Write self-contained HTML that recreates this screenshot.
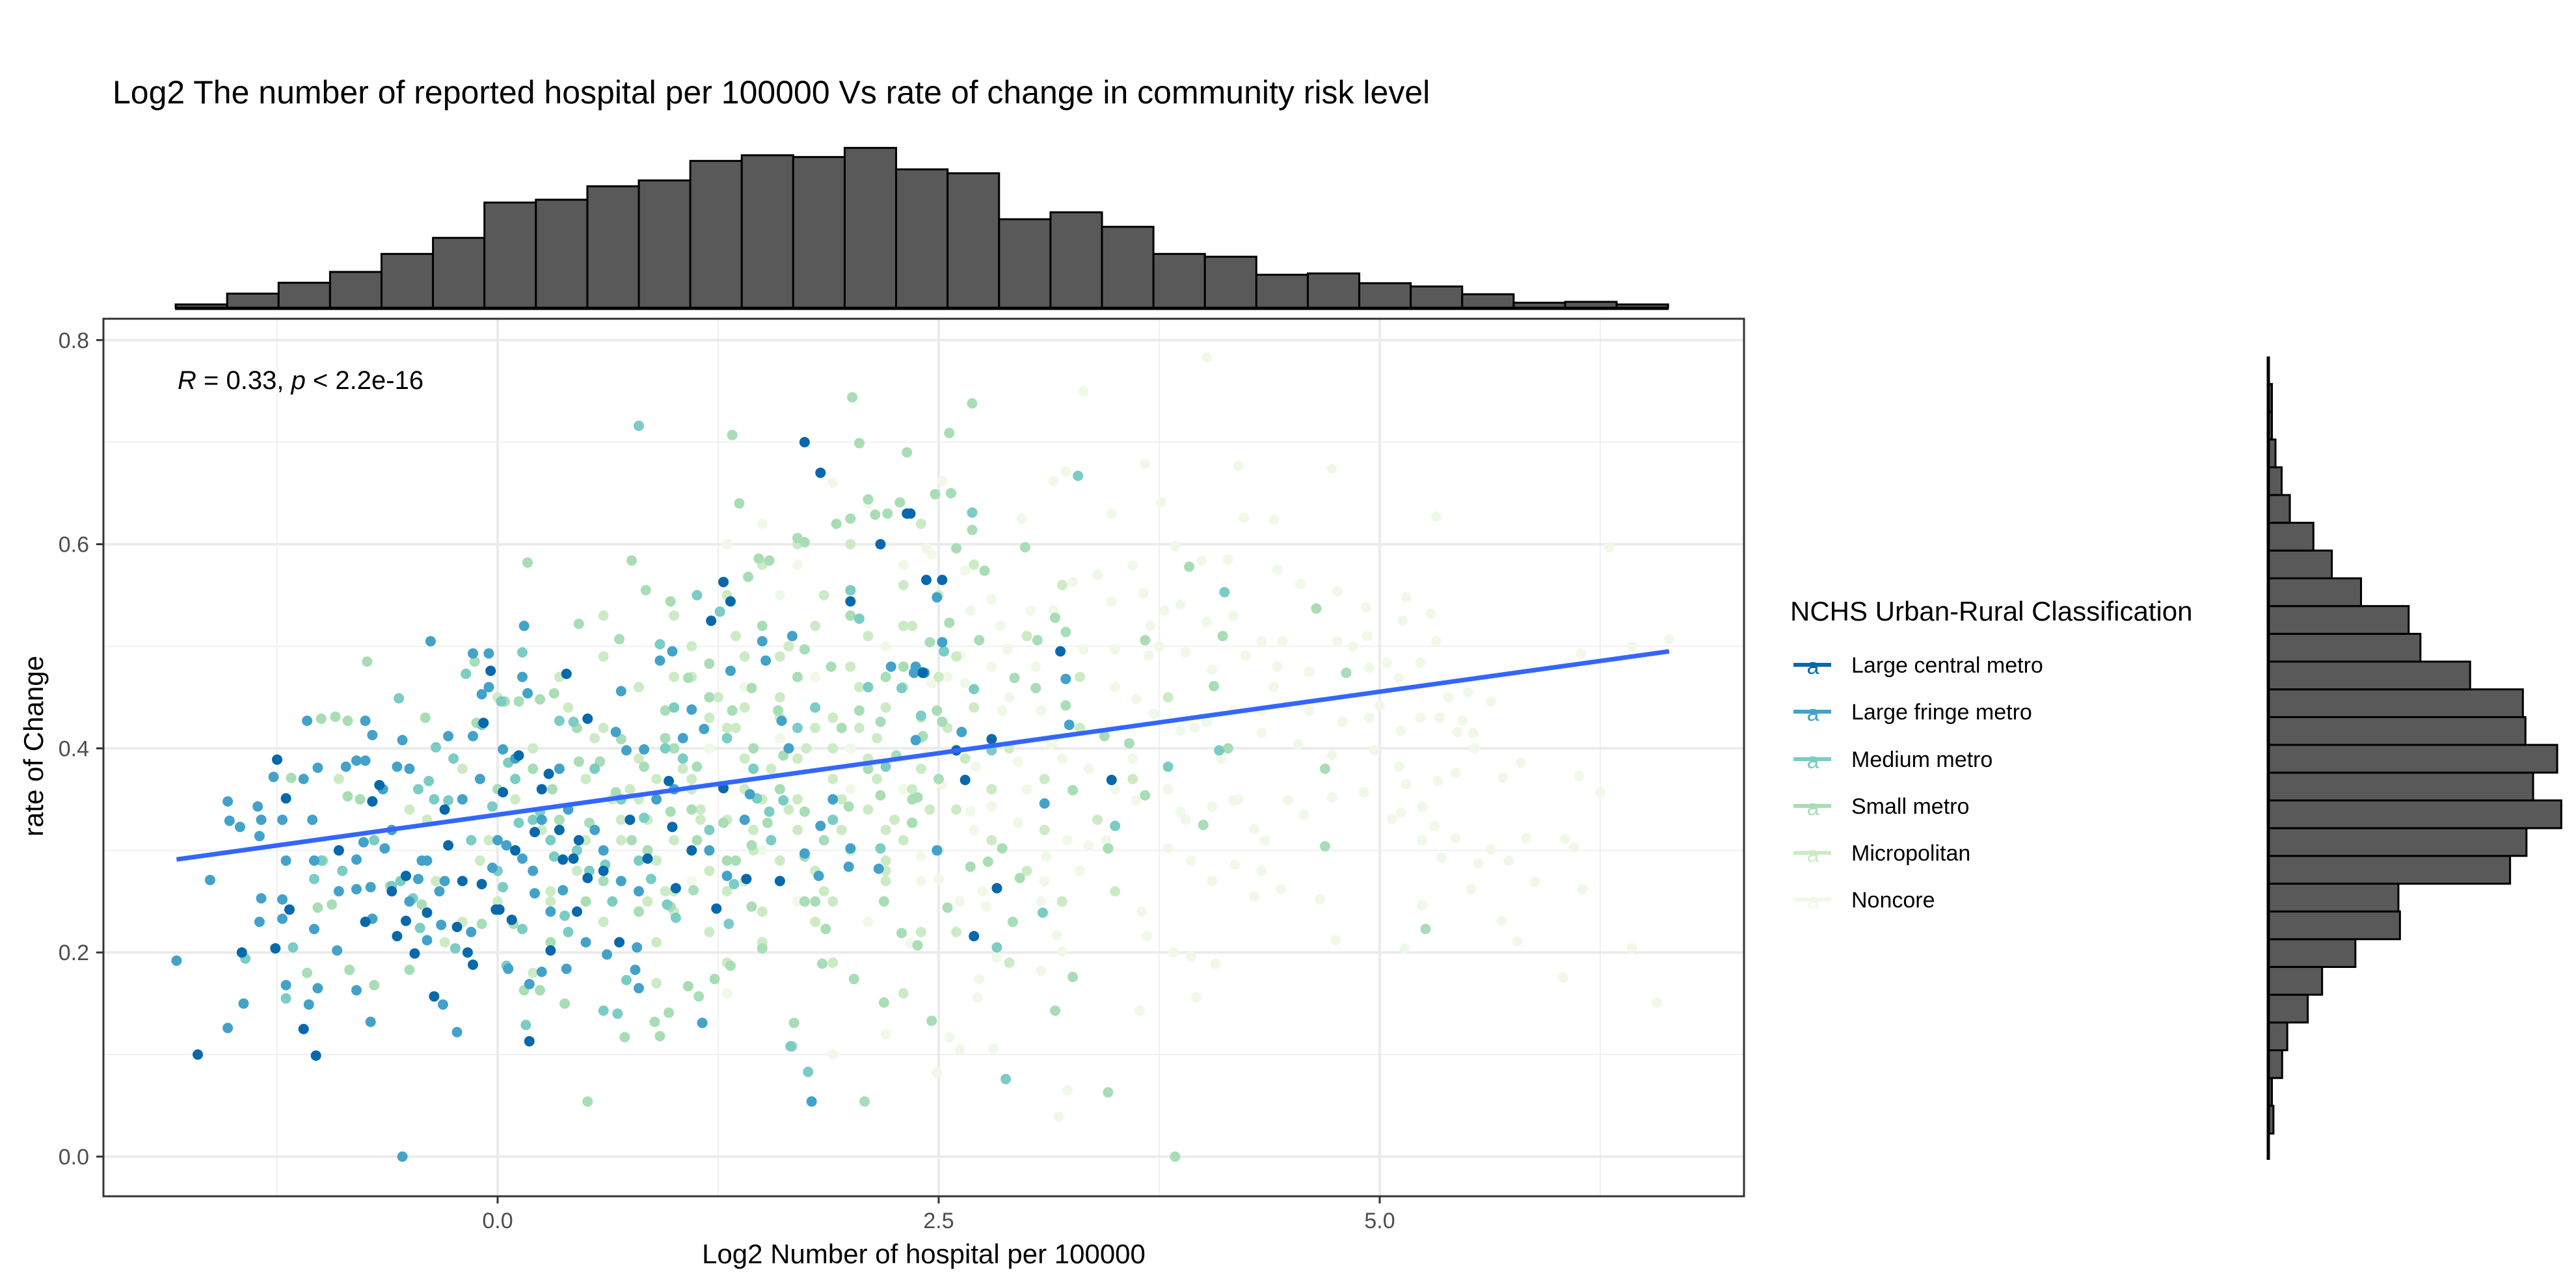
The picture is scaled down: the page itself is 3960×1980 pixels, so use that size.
<!DOCTYPE html>
<html><head><meta charset="utf-8"><style>
html,body{margin:0;padding:0;background:#fff;}
svg{display:block;font-family:"Liberation Sans",Arial,sans-serif;}
</style></head><body>
<svg id="chart" width="3960" height="1980" viewBox="0 0 3960 1980" xmlns="http://www.w3.org/2000/svg">
<rect x="0" y="0" width="3960" height="1980" fill="#fff"/>
<text x="173" y="159" font-size="50" fill="#000">Log2 The number of reported hospital per 100000 Vs rate of change in community risk level</text>
<g id="tophist"></g>
<g id="righthist"></g>
<rect x="159" y="490" width="2522" height="1349" fill="#fff"/>
<g id="grid"></g>
<g id="points"></g>
<g id="fit"></g>
<rect x="159" y="490" width="2522" height="1349" fill="none" stroke="#333" stroke-width="3"/>
<g id="axes"></g>
<text x="273" y="598" font-size="40" fill="#000"><tspan font-style="italic">R</tspan> = 0.33, <tspan font-style="italic">p</tspan> &lt; 2.2e-16</text>
<text x="1420" y="1942" font-size="42" text-anchor="middle" fill="#000">Log2 Number of hospital per 100000</text>
<text transform="translate(66,1147) rotate(-90)" font-size="42" text-anchor="middle" fill="#000">rate of Change</text>
<g id="legend">
<text x="2752" y="954" font-size="42" fill="#000">NCHS Urban-Rural Classification</text>
</g>
</svg>
<script>
// ----- data -----
const categories = ["Large central metro","Large fringe metro","Medium metro","Small metro","Micropolitan","Noncore"];
const colors = ["#0868ac","#43a2ca","#7bccc4","#a8ddb5","#ccebc5","#f0f9e8"];
const xTicks = [0, 2.5, 5.0];
const xTickLabels = ["0.0","2.5","5.0"];
const yTicks = [0, 0.2, 0.4, 0.6, 0.8];
const yTickLabels = ["0.0","0.2","0.4","0.6","0.8"];
const fitIntercept = 0.335;
const fitSlope = 0.0241;
const fitXRange = [-1.82, 6.64];
const topHistStart = -1.825;
const topHistBinWidth = 0.2917;
const topHistCounts = [15,65,115,165,248,322,485,498,560,587,677,703,695,737,638,620,408,440,373,248,235,152,158,113,98,62,23,27,15];
const rightHistStart = 0.0226;
const rightHistBinWidth = 0.0272;
const rightHistCounts = [10,7,27,37,77,105,170,257,254,472,504,572,517,564,502,497,394,297,274,181,124,88,42,26,14,7,7];

const centralX = [-1.25,-1.70,-1.03,-1.10,-1.45,-1.26,-1.18,-1.20,-0.67,-0.71,-0.52,-0.47,-0.36,-0.57,-0.23,-0.14,-0.17,-0.08,-0.04,-0.01,0.01,0.08,0.18,0.30,0.29,0.35,0.37,0.43,0.39,0.51,0.51,0.69,0.85,0.97,0.99,1.01,1.24,1.28,1.32,1.21,1.28,1.41,1.60,1.74,1.83,2.32,2.0,2.43,2.17,2.52,3.48,2.65,2.70,2.83,2.41,3.19,2.80,2.34,2.60,-0.28,0.03,0.12,0.46,0.21,-0.09,-0.40,-0.52,-0.9,-0.6,-0.3,0.1,0.25,0.6,-0.75,-0.2,0.45,0.75,1.1];
const centralY = [0.389,0.10,0.099,0.125,0.20,0.204,0.242,0.351,0.364,0.348,0.275,0.199,0.157,0.216,0.225,0.188,0.20,0.425,0.476,0.242,0.242,0.232,0.113,0.202,0.375,0.320,0.291,0.292,0.473,0.429,0.273,0.210,0.292,0.368,0.323,0.263,0.243,0.563,0.544,0.525,0.361,0.272,0.270,0.70,0.67,0.63,0.544,0.565,0.60,0.565,0.369,0.369,0.216,0.263,0.474,0.495,0.409,0.63,0.398,0.305,0.357,0.393,0.31,0.318,0.267,0.239,0.231,0.30,0.26,0.34,0.30,0.36,0.28,0.23,0.27,0.24,0.33,0.30];

const fringeX = [-1.82,-1.63,-1.53,-1.52,-1.46,-1.36,-1.34,-1.27,-1.22,-1.05,-1.35,-1.20,-1.04,-1.34,-1.22,-1.35,-1.22,-1.04,-1.44,-1.53,-1.07,-1.02,-1.20,-1.08,-1.02,-0.86,-0.80,-0.75,-0.75,-0.71,-0.57,-0.50,-0.38,-0.54,-0.71,-0.76,-0.80,-0.72,-0.80,-0.71,-0.80,-0.72,-0.23,-0.31,-0.91,-0.64,-0.45,-0.33,-0.43,-0.32,-0.40,-0.14,-0.05,-0.05,-0.09,-0.14,-0.28,0.03,0.17,0.14,0.15,0.14,0.05,-0.03,0.21,0.37,0.39,0.25,0.18,0.06,0.62,0.79,0.80,0.78,0.70,0.73,0.67,0.83,0.92,0.99,1.10,1.17,1.32,1.50,1.52,1.61,1.67,1.74,1.82,1.99,2.0,2.16,2.23,2.37,2.42,2.52,1.16,1.78,-0.54,1.30,1.43,1.83,2.49,2.37,2.36,3.10,2.49,2.63,3.22,3.24,-0.6,-0.4,-0.2,0.0,0.2,0.4,0.6,0.8,1.0,-0.5,-0.1,0.3,0.55,0.9,1.2,-0.3,0.1,0.5,-0.65,0.35,0.7,1.05,-0.15,0.25,-0.9,-1.1,1.4,1.65,1.9];
const fringeY = [0.192,0.271,0.348,0.329,0.323,0.343,0.33,0.372,0.33,0.33,0.314,0.29,0.29,0.253,0.252,0.23,0.233,0.223,0.15,0.126,0.149,0.165,0.168,0.427,0.381,0.382,0.388,0.388,0.427,0.413,0.382,0.38,0.505,0.408,0.348,0.308,0.291,0.264,0.262,0.233,0.163,0.132,0.122,0.149,0.202,0.302,0.272,0.26,0.29,0.227,0.212,0.493,0.493,0.46,0.453,0.412,0.412,0.399,0.454,0.47,0.52,0.292,0.305,0.283,0.258,0.261,0.184,0.181,0.169,0.184,0.198,0.205,0.165,0.183,0.456,0.398,0.416,0.399,0.486,0.495,0.438,0.419,0.476,0.505,0.486,0.427,0.51,0.297,0.275,0.284,0.302,0.282,0.48,0.48,0.474,0.504,0.131,0.054,0.0,0.275,0.355,0.324,0.548,0.408,0.474,0.346,0.30,0.416,0.468,0.423,0.32,0.29,0.35,0.31,0.28,0.34,0.30,0.26,0.36,0.25,0.37,0.24,0.32,0.35,0.30,0.27,0.39,0.21,0.36,0.38,0.27,0.41,0.22,0.33,0.26,0.37,0.33,0.40,0.35];

const mediumX = [0.80,-0.56,-0.88,-1.16,-1.43,-1.20,-1.04,-1.0,-0.39,-0.28,-0.36,-0.24,-0.60,-0.48,-0.44,-0.35,-0.18,0.14,-0.09,0.02,0.06,-0.03,0.12,0.03,0.14,0.05,0.16,0.24,0.32,0.35,0.43,0.38,0.40,0.52,0.61,0.60,0.68,0.73,0.83,0.87,0.96,1.01,1.13,1.26,0.92,1.31,1.34,1.47,1.54,1.62,1.66,1.76,2.0,2.05,2.20,2.29,2.40,2.17,3.29,2.69,4.12,2.53,2.70,2.83,3.09,2.88,3.80,4.09,2.40,3.50,2.80,-0.7,-0.45,-0.15,0.1,0.3,0.55,0.8,1.05,1.3,1.55,1.8,-0.55,-0.25,0.2,0.45,0.7,0.95,1.2,1.45,1.7,0.0,0.65,1.0,1.9,2.1];
const mediumY = [0.716,0.449,0.28,0.205,0.194,0.155,0.272,0.29,0.368,0.349,0.35,0.204,0.265,0.253,0.224,0.401,0.473,0.494,0.423,0.446,0.386,0.343,0.327,0.264,0.223,0.187,0.129,0.338,0.294,0.427,0.426,0.236,0.22,0.28,0.286,0.143,0.14,0.173,0.332,0.272,0.247,0.234,0.55,0.534,0.502,0.228,0.267,0.351,0.338,0.349,0.108,0.083,0.555,0.527,0.382,0.459,0.475,0.302,0.667,0.631,0.553,0.495,0.458,0.205,0.239,0.076,0.382,0.398,0.432,0.324,0.398,0.31,0.36,0.31,0.37,0.31,0.38,0.29,0.39,0.41,0.31,0.44,0.27,0.39,0.33,0.30,0.35,0.40,0.32,0.38,0.42,0.28,0.25,0.44,0.33,0.46];

const smallX = [0.17,0.76,0.46,0.69,0.84,0.98,1.37,1.33,2.01,2.05,2.10,2.21,2.14,2.0,1.92,1.74,1.70,1.54,1.48,1.42,2.32,2.28,-0.74,-1.0,-0.92,-0.85,-1.17,-0.85,-0.78,-0.99,-1.02,-0.94,-1.08,-0.84,-0.70,-0.50,-0.43,-0.61,-0.41,-0.13,-0.12,0.04,0.12,0.24,0.32,0.09,-0.09,0.15,0.24,0.38,0.51,0.72,0.92,0.97,0.89,1.08,1.14,1.23,1.32,1.50,1.68,1.67,2.08,1.84,2.02,2.19,2.29,2.38,1.86,2.19,2.46,1.74,0.98,1.11,1.44,0.67,0.58,0.83,0.95,1.08,1.20,1.33,1.44,1.59,1.74,1.89,2.05,2.17,2.26,2.41,2.52,1.62,1.13,0.98,1.28,1.53,1.74,1.99,2.17,2.35,1.74,1.44,1.13,0.76,0.52,0.31,0.46,0.70,2.69,2.56,2.48,2.57,2.69,2.60,2.76,2.99,3.16,3.22,3.06,2.73,2.45,2.56,3.92,4.64,3.67,4.06,4.81,3.22,3.05,2.93,3.58,3.44,3.26,4.69,3.67,4.69,2.86,2.68,2.78,2.92,2.55,3.26,3.16,3.46,5.26,3.84,4.11,4.14,4.0,2.38,2.49,2.96,3.46,0.1,0.35,0.6,0.85,1.1,1.35,1.6,1.85,2.1,2.35,0.2,0.45,0.7,0.95,1.2,1.45,1.7,1.95,2.2,0.0,0.5,1.0,1.5,2.0,2.5,0.3,0.8,1.3,1.8,2.3];
const smallY = [0.582,0.584,0.522,0.507,0.555,0.544,0.64,0.707,0.744,0.699,0.644,0.63,0.629,0.625,0.62,0.602,0.606,0.584,0.586,0.568,0.690,0.641,0.485,0.429,0.431,0.427,0.371,0.353,0.35,0.29,0.244,0.247,0.18,0.183,0.168,0.183,0.247,0.265,0.43,0.485,0.425,0.446,0.446,0.448,0.454,0.228,0.228,0.163,0.163,0.15,0.054,0.117,0.118,0.141,0.132,0.167,0.157,0.174,0.187,0.204,0.131,0.108,0.054,0.189,0.174,0.151,0.219,0.207,0.223,0.25,0.133,0.25,0.245,0.261,0.245,0.357,0.387,0.382,0.437,0.469,0.483,0.437,0.459,0.437,0.497,0.48,0.437,0.426,0.393,0.412,0.426,0.393,0.382,0.338,0.327,0.327,0.338,0.343,0.354,0.327,0.294,0.305,0.31,0.31,0.327,0.36,0.387,0.409,0.738,0.709,0.649,0.65,0.614,0.596,0.574,0.597,0.528,0.514,0.506,0.506,0.504,0.523,0.578,0.537,0.506,0.461,0.474,0.442,0.459,0.469,0.405,0.412,0.359,0.38,0.354,0.304,0.302,0.284,0.289,0.23,0.244,0.176,0.143,0.063,0.223,0.0,0.51,0.40,0.325,0.352,0.437,0.273,0.302,0.30,0.33,0.27,0.30,0.34,0.29,0.36,0.31,0.38,0.35,0.38,0.42,0.35,0.41,0.45,0.40,0.47,0.42,0.47,0.36,0.25,0.40,0.52,0.53,0.37,0.21,0.24,0.29,0.25,0.48];

const microX = [0.4,0.6,0.8,1.0,1.2,1.4,1.6,1.8,2.0,2.2,2.4,1.1,1.3,1.5,1.7,1.9,2.1,2.3,0.5,0.7,0.9,1.0,1.2,1.4,1.6,1.8,2.0,2.2,0.6,0.9,1.2,1.5,1.8,2.4,0.3,0.1,-0.2,-0.5,-0.1,0.2,1.0,1.3,1.5,1.7,2.0,2.3,1.6,2.5,2.7,2.9,3.1,3.3,2.6,2.8,3.0,3.2,2.6,2.9,3.4,3.6,2.5,2.7,3.0,3.3,2.4,1.9,1.1,0.8,0.5,1.4,1.7,2.1,2.4,0.9,1.3,-0.3,0.2,0.0,0.6,1.9,2.3,3.5,3.8,3.2,0.75,0.95,1.15,1.35,1.55,1.75,1.95,2.15,2.35,0.85,1.05,1.25,1.45,1.65,1.85,2.05,2.25,1.0,1.4,1.8,2.2,0.7,1.1,1.5,1.9,2.3,-0.4,-0.7,-0.9,0.3,0.0,-0.2,0.65,0.9,1.15,1.4,1.65,1.9,2.15,2.4,2.65,0.55,0.8,1.05,1.3,1.55,1.8,2.05,2.3,2.55,2.8,0.45,0.7,0.95,1.2,1.45,1.7,1.95,2.2,2.45,0.35,0.6,0.85,1.1,1.35,1.6,1.85,2.1,2.35,2.6,1.0,1.3,1.6,1.9,2.2,2.5,2.8,3.1,0.25,-0.05,-0.35];
const microY = [0.44,0.42,0.39,0.47,0.43,0.39,0.45,0.52,0.48,0.44,0.38,0.36,0.33,0.35,0.32,0.37,0.34,0.31,0.31,0.33,0.29,0.31,0.28,0.27,0.29,0.28,0.30,0.29,0.23,0.21,0.22,0.21,0.23,0.22,0.26,0.35,0.38,0.34,0.29,0.40,0.53,0.55,0.58,0.60,0.60,0.56,0.49,0.47,0.44,0.40,0.37,0.42,0.34,0.31,0.28,0.25,0.22,0.19,0.33,0.37,0.55,0.58,0.51,0.47,0.62,0.43,0.50,0.46,0.37,0.44,0.39,0.39,0.43,0.17,0.19,0.21,0.18,0.45,0.53,0.19,0.16,0.26,0.45,0.56,0.36,0.41,0.34,0.42,0.31,0.40,0.35,0.41,0.36,0.25,0.38,0.45,0.30,0.50,0.26,0.46,0.33,0.26,0.49,0.42,0.28,0.31,0.37,0.24,0.40,0.52,0.33,0.31,0.37,0.25,0.25,0.23,0.35,0.37,0.33,0.36,0.34,0.40,0.37,0.41,0.39,0.41,0.35,0.39,0.42,0.38,0.44,0.42,0.46,0.42,0.36,0.28,0.31,0.26,0.30,0.32,0.35,0.32,0.27,0.34,0.47,0.49,0.33,0.47,0.51,0.43,0.55,0.51,0.52,0.49,0.24,0.26,0.27,0.25,0.32,0.30,0.36,0.32,0.32,0.31,0.27];

const noncoreX = [4.02,3.32,3.67,4.20,4.73,3.76,3.48,4.23,4.40,5.32,6.30,3.22,3.15,2.97,3.60,3.84,3.99,4.14,4.42,4.55,4.76,4.92,5.15,5.29,5.13,5.32,4.93,4.76,4.45,4.33,4.17,4.02,3.87,3.78,3.66,3.48,3.40,3.26,3.15,3.32,3.50,3.69,3.90,4.05,4.24,4.42,4.60,4.85,4.94,5.04,5.11,5.23,5.50,5.63,5.39,5.23,5.34,5.47,5.53,5.44,5.12,5.0,4.94,4.79,4.60,4.48,4.33,4.17,4.02,3.87,3.72,3.62,4.33,4.54,4.73,4.97,5.11,5.15,5.43,5.54,5.70,5.80,6.13,6.25,5.33,5.24,5.12,5.07,5.31,5.43,5.24,5.35,5.56,5.63,5.73,5.83,6.05,6.10,5.88,6.15,5.52,5.69,5.78,5.24,5.14,4.75,4.66,4.44,4.29,4.05,4.18,4.33,3.93,3.80,3.68,3.83,3.93,4.07,3.96,3.64,6.04,6.43,6.57,6.64,6.43,6.14,4.57,4.73,4.91,4.48,4.29,4.17,4.05,3.87,3.62,3.50,3.35,3.23,3.11,2.95,2.80,2.71,2.95,3.14,3.08,2.86,2.80,2.65,2.89,3.02,2.80,2.65,2.43,2.52,2.46,2.68,2.62,2.46,2.43,2.52,2.68,2.50,2.62,2.77,3.08,3.17,3.08,3.20,2.83,2.73,2.72,2.56,2.62,2.46,2.49,2.81,3.18,3.23,2.34,2.34,2.40,1.3,1.5,1.7,1.9,2.1,2.3,1.6,2.0,2.2,1.8,1.4,1.2,1.6,2.0,2.3,1.9,1.5,1.1,1.7,2.1,2.4,1.3,2.2,1.9,2.0,2.6,2.9,3.2,3.5,3.8,4.1,4.4,2.7,3.0,3.3,3.6,3.9,4.2,2.55,2.85,3.15,3.45,3.75,4.05,4.35,2.75,3.05,3.35,3.65,3.95,3.4,3.7,3.1];
const noncoreY = [0.783,0.75,0.679,0.677,0.674,0.641,0.63,0.626,0.624,0.627,0.597,0.671,0.662,0.625,0.579,0.598,0.584,0.585,0.575,0.561,0.554,0.538,0.548,0.532,0.525,0.505,0.51,0.505,0.505,0.505,0.530,0.524,0.541,0.535,0.552,0.544,0.570,0.563,0.535,0.497,0.497,0.491,0.494,0.477,0.491,0.48,0.475,0.50,0.479,0.484,0.469,0.484,0.455,0.446,0.45,0.43,0.43,0.427,0.415,0.416,0.417,0.442,0.43,0.426,0.437,0.442,0.437,0.437,0.426,0.417,0.434,0.448,0.415,0.404,0.393,0.398,0.382,0.365,0.376,0.40,0.371,0.386,0.373,0.357,0.368,0.343,0.337,0.331,0.324,0.312,0.31,0.293,0.287,0.301,0.29,0.312,0.311,0.303,0.269,0.262,0.262,0.231,0.211,0.246,0.204,0.212,0.252,0.262,0.255,0.27,0.286,0.28,0.29,0.302,0.216,0.20,0.196,0.189,0.156,0.143,0.176,0.204,0.151,0.507,0.50,0.493,0.335,0.352,0.357,0.349,0.321,0.349,0.343,0.338,0.349,0.360,0.305,0.31,0.294,0.327,0.343,0.382,0.387,0.404,0.437,0.437,0.48,0.464,0.497,0.535,0.546,0.574,0.596,0.662,0.59,0.535,0.491,0.464,0.393,0.365,0.338,0.272,0.25,0.245,0.25,0.217,0.182,0.201,0.195,0.174,0.156,0.117,0.105,0.133,0.082,0.106,0.039,0.065,0.209,0.327,0.294,0.60,0.62,0.58,0.66,0.64,0.58,0.55,0.55,0.50,0.47,0.46,0.40,0.41,0.40,0.36,0.33,0.30,0.27,0.25,0.23,0.27,0.16,0.12,0.10,0.36,0.40,0.45,0.39,0.46,0.36,0.39,0.46,0.32,0.36,0.28,0.39,0.33,0.35,0.47,0.52,0.41,0.31,0.50,0.27,0.31,0.26,0.48,0.38,0.24,0.42,0.57,0.52,0.27];

const seriesX = [centralX, fringeX, mediumX, smallX, microX, noncoreX];
const seriesY = [centralY, fringeY, mediumY, smallY, microY, noncoreY];

// ----- scales -----
const X0 = 765, XU = 271.2;
const Y0 = 1778, YU = 1569;
const sx = v => X0 + v * XU;
const sy = v => Y0 - v * YU;
const NS = "http://www.w3.org/2000/svg";
function mk(tag, attrs, parent) {
  const e = document.createElementNS(NS, tag);
  for (const k in attrs) e.setAttribute(k, attrs[k]);
  parent.appendChild(e);
  return e;
}

// grid
const grid = document.getElementById("grid");
[-1.25, 1.25, 3.75, 6.25].forEach(v => {
  const l = mk("line", {x1: sx(v), x2: sx(v), y1: 490, y2: 1839, stroke: "#f0f0f0", "stroke-width": 2}, grid);
  
  
});
[0.1, 0.3, 0.5, 0.7].forEach(v => {
  const l = mk("line", {x1: 159, x2: 2681, y1: sy(v), y2: sy(v), stroke: "#f0f0f0", "stroke-width": 2}, grid);
  
  
});
xTicks.forEach(v => {
  const l = mk("line", {x1: sx(v), x2: sx(v), y1: 490, y2: 1839, stroke: "#ebebeb", "stroke-width": 4}, grid);
  
  
});
yTicks.forEach(v => {
  const l = mk("line", {x1: 159, x2: 2681, y1: sy(v), y2: sy(v), stroke: "#ebebeb", "stroke-width": 4}, grid);
  
  
});

// points
const pts = document.getElementById("points");
for (let s = seriesX.length - 1; s >= 0; s--) {
  const g = mk("g", {fill: colors[s]}, pts);
  
  
  const xs = seriesX[s], ys = seriesY[s];
  for (let i = 0; i < xs.length; i++) {
    const c = mk("circle", {cx: sx(xs[i]).toFixed(1), cy: sy(ys[i]).toFixed(1), r: 8}, g);
    
    
  }
}

// regression line
const fit = document.getElementById("fit");
const fl = mk("line", {x1: sx(fitXRange[0]), y1: sy(fitIntercept + fitSlope * fitXRange[0]), x2: sx(fitXRange[1]), y2: sy(fitIntercept + fitSlope * fitXRange[1]), stroke: "#3366ff", "stroke-width": 7}, fit);



// axes
const axes = document.getElementById("axes");
xTicks.forEach((v, i) => {
  const t = mk("line", {x1: sx(v), x2: sx(v), y1: 1839, y2: 1850, stroke: "#333", "stroke-width": 3}, axes);
  
  
  const l = mk("text", {x: sx(v), y: 1888, "font-size": 34, fill: "#4d4d4d", "text-anchor": "middle"}, axes);
  l.textContent = xTickLabels[i];
  
  
});
yTicks.forEach((v, i) => {
  const t = mk("line", {x1: 148, x2: 159, y1: sy(v), y2: sy(v), stroke: "#333", "stroke-width": 3}, axes);
  
  
  const l = mk("text", {x: 137, y: sy(v) + 12, "font-size": 34, fill: "#4d4d4d", "text-anchor": "end"}, axes);
  l.textContent = yTickLabels[i];
  
  
});

// top histogram
const th = document.getElementById("tophist");
const TB = 473, TS = 1 / 3;
topHistCounts.forEach((c, i) => {
  const x1 = sx(topHistStart + i * topHistBinWidth), x2 = sx(topHistStart + (i + 1) * topHistBinWidth);
  const r = mk("rect", {x: x1, y: TB - c * TS, width: x2 - x1, height: c * TS, fill: "#595959", stroke: "#000", "stroke-width": 3}, th);
  
  
});
const tAxis = mk("line", {x1: sx(topHistStart) - 1, x2: sx(topHistStart + topHistCounts.length * topHistBinWidth) + 1, y1: TB + 1, y2: TB + 1, stroke: "#000", "stroke-width": 5}, th);



// right histogram
const rh = document.getElementById("righthist");
const RB = 3487, RS = 1 / 1.27;
rightHistCounts.forEach((c, i) => {
  const y1 = sy(rightHistStart + (i + 1) * rightHistBinWidth), y2 = sy(rightHistStart + i * rightHistBinWidth);
  const r = mk("rect", {x: RB, y: y1, width: c * RS, height: y2 - y1, fill: "#595959", stroke: "#000", "stroke-width": 3}, rh);
  
  
});
const rAxis = mk("line", {x1: RB, x2: RB, y1: 548, y2: 1783, stroke: "#000", "stroke-width": 5}, rh);



// legend
const lg = document.getElementById("legend");
const legendY = [1022, 1094, 1167, 1239, 1311, 1383];
categories.forEach((name, i) => {
  const g = mk("g", {}, lg);
  
  
  const ln = mk("line", {x1: 2757, x2: 2815, y1: legendY[i], y2: legendY[i], stroke: colors[i], "stroke-width": 6}, g);
  
  
  const a = mk("text", {x: 2787, y: legendY[i] + 14, "font-size": 34, fill: colors[i], "text-anchor": "middle"}, g);
  a.textContent = "a";
  
  
  const t = mk("text", {x: 2846, y: legendY[i] + 12, "font-size": 34, fill: "#000"}, g);
  t.textContent = name;
  
  
});
</script>
</body></html>
